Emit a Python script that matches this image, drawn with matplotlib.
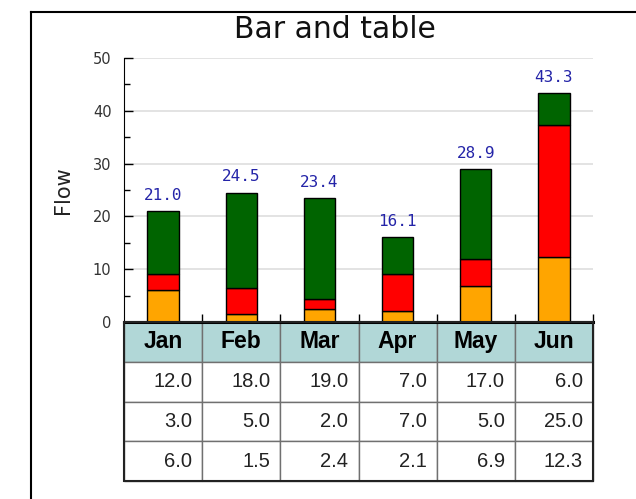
import numpy as np
import matplotlib.pyplot as plt
from matplotlib.patches import Rectangle
from matplotlib.lines import Line2D

months = ["Jan", "Feb", "Mar", "Apr", "May", "Jun"]
top_vals = [12.0, 18.0, 19.0, 7.0, 17.0, 6.0]     # green
mid_vals = [3.0, 5.0, 2.0, 7.0, 5.0, 25.0]        # red
base_vals = [6.0, 1.5, 2.4, 2.1, 6.9, 12.3]       # orange

fig = plt.figure(figsize=(6.36, 4.99), dpi=100)

# outer frame (only top and left edges are visible)
fig.add_artist(Line2D([31/636, 1.0], [1 - 12/499, 1 - 12/499], color="black", lw=1.5))
fig.add_artist(Line2D([31/636, 31/636], [0.0, 1 - 12/499], color="black", lw=1.5))

ax = fig.add_axes([124/636, 1 - 322/499, (593 - 124)/636, (322 - 58)/499])

x = np.arange(len(months))
w = 0.4
base = np.array(base_vals)
mid = np.array(mid_vals)
top = np.array(top_vals)
ax.bar(x, base, w, color="#ffa500", edgecolor="black", lw=1, zorder=3)
ax.bar(x, mid, w, bottom=base, color="#ff0000", edgecolor="black", lw=1, zorder=3)
ax.bar(x, top, w, bottom=base + mid, color="#006400", edgecolor="black", lw=1, zorder=3)

totals = base + mid + top
for xi, t in zip(x, totals):
    ax.annotate(f"{t:.1f}", (xi, t), xytext=(0, 6), textcoords="offset points",
                ha="center", va="bottom", fontsize=11.5, color="#2424a8",
                family="DejaVu Sans Mono")

ax.set_xlim(-0.5, 5.5)
ax.set_ylim(0, 50)
ax.set_yticks(np.arange(0, 51, 10))
ax.set_yticks(np.arange(5, 50, 10), minor=True)
ax.set_xticks(np.arange(0.5, 6, 1))
ax.set_xticklabels([])
ax.tick_params(axis="y", which="major", direction="in", length=6.5, width=1,
               labelsize=10.5, labelcolor="#333333", pad=9)
ax.tick_params(axis="y", which="minor", direction="in", length=4, width=1)
ax.tick_params(axis="x", direction="in", length=6, width=1)
ax.grid(axis="y", color="#e0e0e0", lw=1.3, zorder=0)
ax.spines["top"].set_visible(False)
ax.spines["right"].set_visible(False)
ax.spines["bottom"].set_linewidth(2.2)
ax.set_ylabel("Flow", fontsize=15, color="#222222", labelpad=14)

fig.text(335/636, 1 - 29/499, "Bar and table", ha="center", va="center",
         fontsize=21.5, color="#111111")

# table under the bars
cell_text = [[f"{v:.1f}" for v in row] for row in (top_vals, mid_vals, base_vals)]
th = (481 - 322) / (322 - 58)
tbl = ax.table(cellText=cell_text, colLabels=months, cellLoc="right",
               colLoc="center", bbox=[0, -th, 1, th])
tbl.auto_set_font_size(False)
for (r, c), cell in tbl.get_celld().items():
    cell.set_edgecolor("#707070")
    cell.set_linewidth(1)
    cell.PAD = 0.13
    txt = cell.get_text()
    txt.set_family("Liberation Sans")
    if r == 0:
        cell.set_facecolor("#b1d7d7")
        txt.set_fontsize(16.5)
        txt.set_fontweight("bold")
    else:
        txt.set_fontsize(14.5)
        txt.set_color("#222222")
ax.add_patch(Rectangle((0, -th), 1, th, transform=ax.transAxes, fill=False,
                       edgecolor="#222222", lw=1.5, clip_on=False, zorder=5))

fig.savefig("out.png", dpi=100)
